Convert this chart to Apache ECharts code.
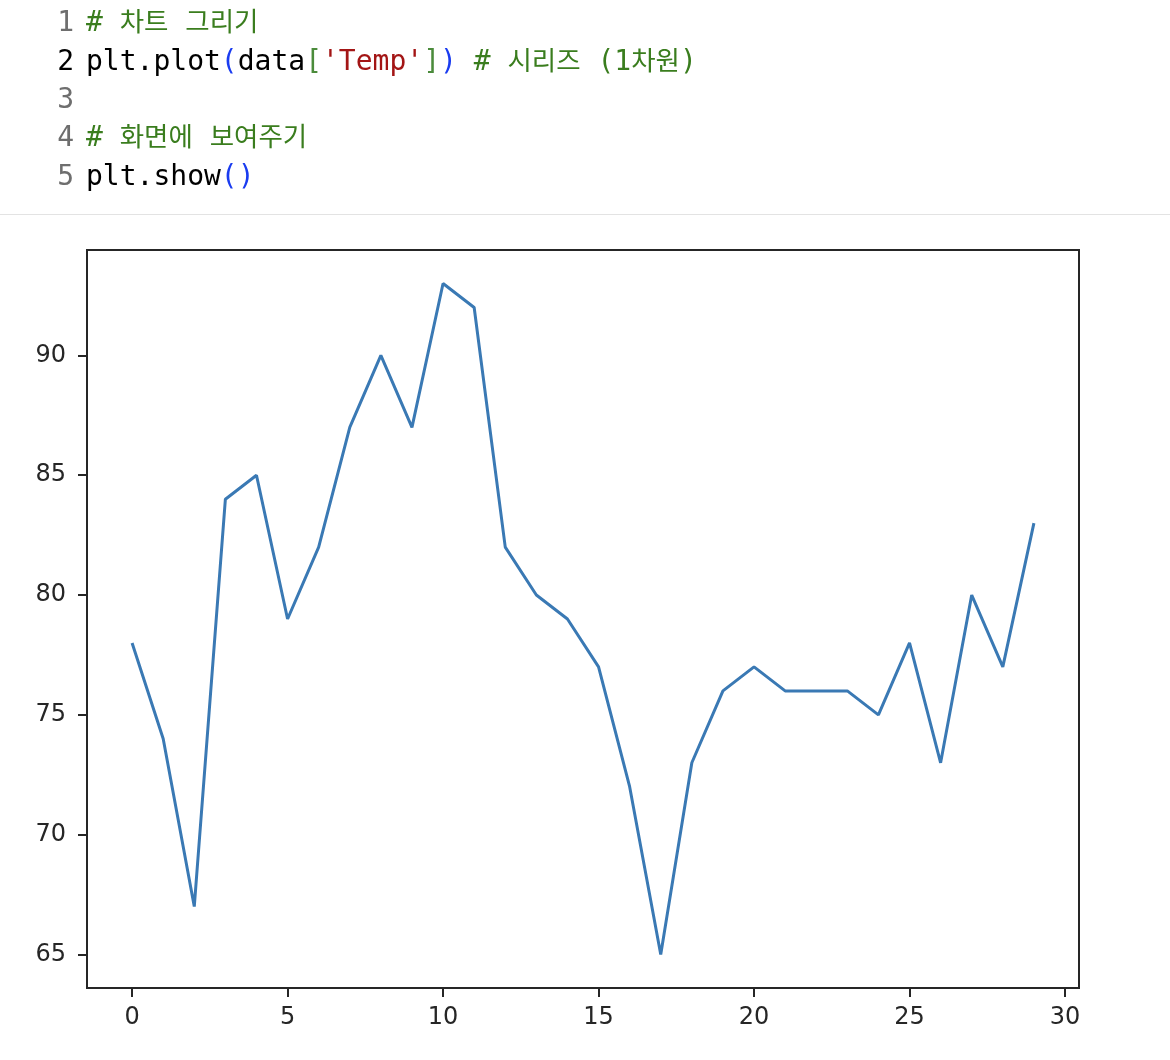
<!DOCTYPE html>
<html>
<head>
<meta charset="utf-8">
<script src="https://cdn.jsdelivr.net/npm/echarts@6/dist/echarts.min.js"></script>
<style>
  html, body { margin: 0; padding: 0; background: #fff; width: 1170px; height: 1060px; overflow: hidden; }
  #code { position: absolute; left: 0; top: 0; width: 1170px; font-family: "DejaVu Sans Mono", "Noto Sans CJK KR", monospace; font-size: 28px; line-height: 38px; z-index: 2; }
  .ln { position: absolute; left: 0; width: 74px; text-align: right; color: #6e6e6e; line-height: 38px; }
  .tx { position: absolute; left: 86px; white-space: pre; color: #000; line-height: 38px; }
  .cm { color: #3a7d1e; }
  .ko { font-size: 26.5px; }
  .st { color: #a31515; }
  .pb { color: #1a3cf0; }
  .br { color: #4b8b3b; }
  #sep { position: absolute; left: 0; top: 214px; width: 1170px; height: 1px; background: #e3e3e3; }
  #chart { position: absolute; left: 0; top: 0; width: 1170px; height: 1060px; z-index: 1; }
</style>
</head>
<body>
<div id="chart"></div>
<div id="code">
  <div class="ln" style="top:3px">1</div><div class="tx" style="top:3px"><span class="cm"># <span class="ko">차트</span> <span class="ko">그리기</span></span></div>
  <div class="ln" style="top:42px;color:#000">2</div><div class="tx" style="top:42px">plt.plot<span class="pb">(</span>data<span class="br">[</span><span class="st">'Temp'</span><span class="br">]</span><span class="pb">)</span> <span class="cm"># <span class="ko">시리즈</span> (1<span class="ko">차원</span>)</span></div>
  <div class="ln" style="top:80px">3</div>
  <div class="ln" style="top:118px">4</div><div class="tx" style="top:118px"><span class="cm"># <span class="ko">화면에</span> <span class="ko">보여주기</span></span></div>
  <div class="ln" style="top:157px">5</div><div class="tx" style="top:157px">plt.show<span class="pb">()</span></div>
</div>
<div id="sep"></div>
<script>
const xIndex = [0,1,2,3,4,5,6,7,8,9,10,11,12,13,14,15,16,17,18,19,20,21,22,23,24,25,26,27,28,29];
const temp = [78,74,67,84,85,79,82,87,90,87,93,92,82,80,79,77,72,65,73,76,77,76,76,76,75,78,73,80,77,83];
const xTicks = [0,5,10,15,20,25,30];
const yTicks = [65,70,75,80,85,90];

const chart = echarts.init(document.getElementById('chart'), null, { renderer: 'canvas' });
const pts = xIndex.map((x, i) => [x, temp[i]]);
const xMin = -1.45, xMax = 30.45, yMin = 63.6, yMax = 94.4;
const labelStyle = { color: '#262626', fontSize: 24, fontFamily: 'DejaVu Sans, sans-serif' };
chart.setOption({
  animation: false,
  grid: { left: 87, top: 250, width: 992, height: 738, show: true, borderColor: '#262626', borderWidth: 2, backgroundColor: 'transparent' },
  xAxis: {
    type: 'value', min: xMin, max: xMax,
    splitLine: { show: false },
    axisLine: { show: true, onZero: false, lineStyle: { color: '#262626', width: 2 } },
    axisTick: { show: true, inside: false, length: 9, customValues: xTicks, lineStyle: { color: '#262626', width: 2 } },
    axisLabel: { show: true, customValues: xTicks, margin: 18, ...labelStyle }
  },
  yAxis: {
    type: 'value', min: yMin, max: yMax,
    splitLine: { show: false },
    axisLine: { show: true, onZero: false, lineStyle: { color: '#262626', width: 2 } },
    axisTick: { show: true, inside: false, length: 9, customValues: yTicks, lineStyle: { color: '#262626', width: 2 } },
    axisLabel: { show: true, customValues: yTicks, margin: 21, ...labelStyle }
  },
  series: [{
    type: 'line', data: pts, showSymbol: false, symbol: 'none',
    lineStyle: { color: '#3a79b4', width: 3 },
    clip: true
  }]
});
</script>
</body>
</html>
